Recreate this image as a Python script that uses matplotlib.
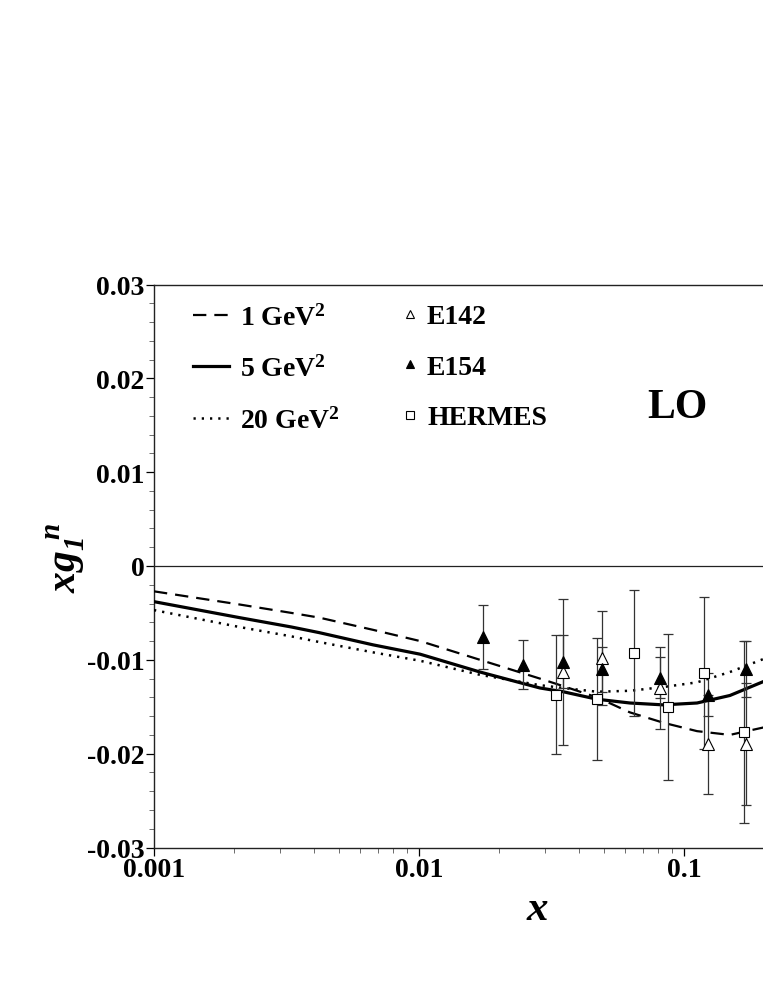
"""
Neutron spin structure function x*g1^n at LO
--------------------------------------------
Model curves at three Q^2 values against E142 / E154 / HERMES data.
"""

import matplotlib
matplotlib.use('Agg')
import matplotlib.pyplot as plt
from matplotlib.ticker import FixedLocator, LogLocator, MultipleLocator, FuncFormatter, NullFormatter

# ── Data ──────────────────────────────────────────────────────────────────────
x_curve  = [0.001, 0.0021, 0.0033, 0.0042, 0.0067, 0.0101, 0.017, 0.0286,
            0.035, 0.047, 0.0625, 0.0835, 0.112, 0.149, 0.20]
q2_1gev  = [-0.0027, -0.0041, -0.0050, -0.0055, -0.0068, -0.0080, -0.0100, -0.0120,
            -0.0128, -0.0140, -0.0156, -0.0167, -0.0176, -0.0180, -0.0172]
q2_5gev  = [-0.0038, -0.0055, -0.0065, -0.0071, -0.0084, -0.0094, -0.0113, -0.0130,
            -0.0134, -0.0142, -0.0146, -0.0148, -0.0146, -0.0138, -0.0123]
q2_20gev = [-0.0047, -0.0065, -0.0075, -0.0081, -0.0092, -0.0101, -0.0116, -0.0127,
            -0.0130, -0.0134, -0.0133, -0.0129, -0.0124, -0.0113, -0.0099]

e142_x   = [0.035, 0.049, 0.081, 0.123, 0.172]
e142_y   = [-0.0113, -0.0098, -0.0130, -0.0190, -0.0190]
e142_err = [0.0078, 0.0050, 0.0044, 0.0053, 0.0065]

e154_x   = [0.0175, 0.0246, 0.035, 0.049, 0.081, 0.123, 0.172]
e154_y   = [-0.0076, -0.0105, -0.0102, -0.0110, -0.0119, -0.0137, -0.0110]
e154_err = [0.0034, 0.0026, 0.0028, 0.0024, 0.0022, 0.0023, 0.0030]

hermes_x   = [0.033, 0.047, 0.065, 0.087, 0.119, 0.168]
hermes_y   = [-0.0137, -0.0142, -0.0093, -0.0150, -0.0114, -0.0177]
hermes_err = [0.0063, 0.0065, 0.0067, 0.0078, 0.0081, 0.0097]

y_ticks  = [-0.03, -0.02, -0.01, 0.0, 0.01, 0.02, 0.03]
x_ticks  = [0.001, 0.01, 0.1]
x_labels = ['0.001', '0.01', '0.1']

# ── Style ─────────────────────────────────────────────────────────────────────
plt.rcParams['font.family'] = ['Liberation Serif', 'DejaVu Serif']
plt.rcParams['font.weight'] = 'bold'
plt.rcParams['mathtext.fontset'] = 'custom'
plt.rcParams['mathtext.rm'] = 'Liberation Serif:bold'
plt.rcParams['mathtext.bf'] = 'Liberation Serif:bold'
plt.rcParams['mathtext.it'] = 'Liberation Serif:italic:bold'
plt.rcParams['mathtext.sf'] = 'Liberation Serif:italic:bold'   # italic digits for the y label

FS_TICK = 20
FS_LEG = 20
BAR_COLOR = '#333333'

# ── Figure ────────────────────────────────────────────────────────────────────
fig = plt.figure(figsize=(7.63, 9.87), dpi=100)
# axes runs out to x = 1, past the right edge of the picture
ax = fig.add_axes([154 / 763, 138.5 / 987, 795 / 763, 563 / 987])

ax.set_xscale('log')
ax.set_xlim(0.001, 1.0)
ax.set_ylim(-0.03, 0.03)

ax.axhline(0, color='#222222', lw=0.9, zorder=1)

# model curves
l1, = ax.plot(x_curve, q2_1gev, color='black', lw=1.6, ls=(0, (6.0, 3.6)), zorder=3)
l5, = ax.plot(x_curve, q2_5gev, color='black', lw=2.3, ls='-', zorder=3)
l20, = ax.plot(x_curve, q2_20gev, color='black', lw=1.8, ls=(0, (0.9, 2.4)), zorder=3)

# error bars
eb_kw = dict(fmt='none', ecolor=BAR_COLOR, elinewidth=0.9, capsize=3.6, capthick=0.9, zorder=4)
ax.errorbar(hermes_x, hermes_y, yerr=hermes_err, **eb_kw)
ax.errorbar(e142_x, e142_y, yerr=e142_err, **eb_kw)
ax.errorbar(e154_x, e154_y, yerr=e154_err, **eb_kw)

# data markers
m142, = ax.plot(e142_x, e142_y, ls='none', marker='^', ms=8, mfc='white', mec='black', mew=0.8, zorder=6)
m154, = ax.plot(e154_x, e154_y, ls='none', marker='^', ms=8, mfc='black', mec='black', mew=0.8, zorder=7)
mher, = ax.plot(hermes_x, hermes_y, ls='none', marker='s', ms=7.5, mfc='white', mec='black', mew=0.8, zorder=5)

# ── Axes cosmetics ────────────────────────────────────────────────────────────
ax.xaxis.set_major_locator(FixedLocator(x_ticks))
ax.set_xticklabels(x_labels)
ax.xaxis.set_minor_locator(LogLocator(base=10, subs=range(2, 10)))
ax.xaxis.set_minor_formatter(NullFormatter())

ax.yaxis.set_major_locator(FixedLocator(y_ticks))
ax.yaxis.set_major_formatter(FuncFormatter(lambda v, _: '0' if abs(v) < 1e-9 else f'{v:.2f}'))
ax.yaxis.set_minor_locator(MultipleLocator(0.002))

ax.tick_params(which='major', direction='out', length=6, width=0.9, labelsize=FS_TICK, colors='black')
ax.tick_params(axis='x', which='major', pad=1)
ax.tick_params(axis='y', which='major', pad=1)
ax.tick_params(which='minor', direction='out', length=3.5, width=0.6, color='#555555')
ax.tick_params(top=False, right=False, which='both')

for side in ['left', 'bottom', 'top', 'right']:
    ax.spines[side].set_linewidth(1.0)
    ax.spines[side].set_color('#222222')

ax.set_xlabel(r'$x$', fontsize=31)
ax.xaxis.set_label_coords((537 - 154) / 795, (848.5 - 910) / 563)
ax.xaxis.label.set_va('center')

ax.set_ylabel(r'$xg_{\mathsf{1}}^{\;\,n}$', fontsize=30)
ax.yaxis.set_label_coords((66 - 154) / 795, (848.5 - 558) / 563)
ax.yaxis.label.set_va('center')

ax.text((677 - 154) / 795, (848.5 - 408) / 563, 'LO', transform=ax.transAxes,
        ha='center', va='center', fontsize=30, fontweight='bold')

# ── Legend ────────────────────────────────────────────────────────────────────
leg_kw = dict(loc='upper left', frameon=False, fontsize=FS_LEG, borderpad=0,
              borderaxespad=0, labelspacing=0.9)
leg1 = ax.legend([l1, l5, l20], [r'1 GeV$^2$', r'5 GeV$^2$', r'20 GeV$^2$'],
                 bbox_to_anchor=((193 - 154) / 795, (848.5 - 305) / 563),
                 handlelength=1.3, handletextpad=0.4, **leg_kw)
ax.add_artist(leg1)
ax.legend([m142, m154, mher], ['E142', 'E154', 'HERMES'],
          bbox_to_anchor=((402 - 154) / 795, (848.5 - 305) / 563),
          handlelength=0.6, handletextpad=0.3, markerscale=0.7, **leg_kw)

fig.savefig('out.png', dpi=100)
plt.close(fig)
